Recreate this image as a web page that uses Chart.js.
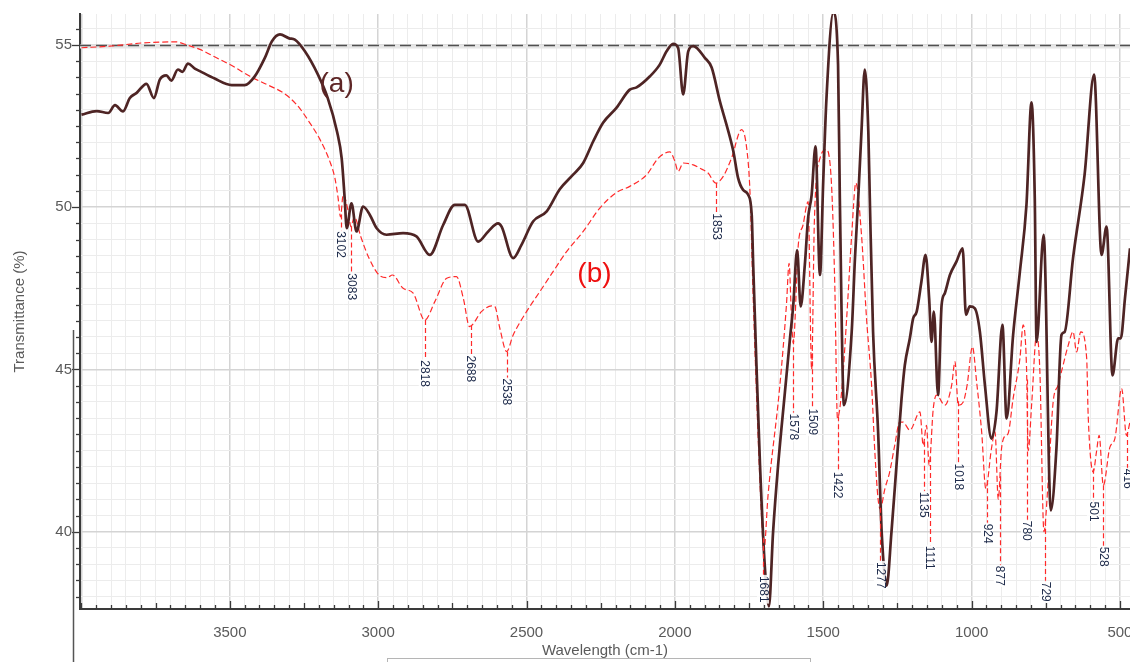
<!DOCTYPE html>
<html><head><meta charset="utf-8">
<script src="https://cdn.jsdelivr.net/npm/chart.js@4.4.1/dist/chart.umd.min.js"></script>
<style>html,body{margin:0;padding:0;background:#fff;}#wrap{position:relative;width:1130px;height:662px;}</style>
</head><body><div id="wrap"><canvas id="c" width="1130" height="662"></canvas></div>
<script>
// ---- data ----
const aWavenumber = [4000,3949,3910,3887,3860,3837,3814,3781,3756,3736,3714,3697,3675,3660,3641,3618,3601,3551,3494,3450,3416,3382,3358,3331,3300,3281,3247,3203,3170,3139,3123,3113,3106,3090,3073,3051,3028,3005,2972,2916,2871,2826,2781,2742,2708,2663,2629,2596,2584,2545,2517,2478,2432,2388,2343,2309,2275,2242,2197,2152,2129,2084,2051,2028,2006,1989,1972,1955,1938,1899,1876,1848,1826,1803,1787,1770,1753,1741,1736,1725,1713,1697,1683,1669,1652,1629,1612,1601,1588,1576,1562,1551,1539,1526,1511,1500,1489,1466,1450,1444,1430,1404,1393,1382,1371,1360,1348,1343,1332,1315,1303,1286,1270,1253,1236,1225,1208,1197,1185,1169,1155,1143,1135,1127,1113,1101,1090,1073,1051,1030,1019,1006,989,972,955,933,916,896,882,860,837,815,798,787,781,757,733,714,697,686,658,619,587,562,545,525,506,497,483,466];
const aTransmittance = [52.85,52.96,52.9,53.14,52.95,53.36,53.52,53.8,53.36,53.93,54.06,53.9,54.24,54.17,54.42,54.27,54.19,53.96,53.76,53.76,54.03,54.6,55.11,55.32,55.2,55.16,54.8,54.08,53.36,52.34,51.5,50.28,49.35,50.12,49.25,50.02,49.76,49.35,49.15,49.2,49.1,48.53,49.45,50.07,50.07,48.94,49.25,49.5,49.4,48.43,48.84,49.56,49.87,50.55,51.0,51.36,52.03,52.6,53.06,53.62,53.69,54.03,54.39,54.8,55.03,54.9,53.47,54.8,54.96,54.6,54.3,53.25,52.54,51.72,50.9,50.53,50.38,49.76,48.22,45.13,42.05,38.96,37.7,39.99,42.05,44.31,45.96,46.98,48.68,46.94,48.22,49.66,50.38,51.87,47.91,50.79,53.36,55.99,54.39,50.28,43.9,46.16,48.43,50.28,52.34,54.24,52.34,50.28,46.16,43.08,39.99,38.34,39.99,42.05,44.1,45.13,45.96,46.57,46.78,47.71,48.53,47.19,45.85,46.78,44.21,46.98,47.35,47.91,48.32,48.73,46.68,46.94,46.88,46.16,44.52,42.87,43.69,46.37,43.49,46.06,48.02,50.07,53.23,50.28,45.85,49.15,40.66,42.56,46.06,46.16,48.43,51.0,54.08,48.53,49.4,44.82,45.96,45.96,47.19,48.73];

const bWavenumber = [4000,3904,3792,3680,3646,3601,3545,3489,3432,3376,3320,3275,3230,3196,3163,3146,3135,3127,3118,3101,3092,3080,3059,3031,2997,2969,2952,2916,2882,2843,2809,2769,2736,2713,2692,2652,2618,2607,2590,2567,2545,2500,2455,2410,2365,2309,2253,2197,2152,2095,2056,2017,2000,1989,1972,1938,1916,1888,1862,1837,1809,1775,1758,1747,1736,1720,1708,1700,1686,1646,1624,1615,1607,1601,1584,1568,1551,1539,1530,1511,1489,1472,1461,1452,1438,1421,1404,1390,1371,1354,1337,1326,1315,1308,1292,1276,1259,1242,1231,1208,1174,1163,1152,1143,1129,1118,1090,1067,1056,1045,1028,1015,997,983,966,952,933,921,910,899,884,877,860,837,826,815,809,797,781,770,756,742,725,708,697,674,658,646,632,612,607,590,579,570,556,534,517,494,478,466];
const bTransmittance = [54.91,54.96,55.06,55.09,55.0,54.86,54.6,54.34,54.03,53.78,53.52,53.16,52.59,52.08,51.41,50.9,50.28,49.7,50.38,49.87,49.4,49.7,49.1,48.43,47.91,47.83,47.91,47.5,47.35,46.52,47.09,47.81,47.86,47.19,46.32,46.78,46.96,46.94,46.27,45.55,46.06,46.78,47.4,48.02,48.63,49.25,49.97,50.45,50.64,51.0,51.51,51.7,51.41,51.1,51.36,51.3,51.2,51.05,50.74,50.95,51.51,52.39,51.82,50.5,47.2,43.08,40.5,39.4,41.12,44.52,46.98,48.27,46.6,45.8,48.84,49.45,50.17,45.0,49.5,51.5,51.77,50.69,47.6,43.5,44.31,46.57,49.15,50.74,49.15,46.57,44.52,42.46,41.0,40.7,41.33,41.84,42.66,43.38,43.38,43.13,43.69,42.66,43.28,42.05,43.8,44.21,43.9,44.52,45.24,43.9,44.0,44.52,45.7,44.62,43.08,41.33,42.56,43.08,41.0,42.56,42.97,43.02,44.1,45.34,46.37,45.13,42.5,44.0,46.06,45.0,40.0,41.53,44.0,44.52,44.93,45.75,46.16,45.54,46.16,45.34,43.59,41.84,42.46,42.97,41.43,42.6,42.87,44.41,42.97,43.38];

const peakLabels = ["3102","3083","2818","2688","2538","1853","1681","1578","1509","1422","1277","1135","1111","1018","924","877","780","729","501","528","416"];
const peakLabelWavenumber = [3126,3092,2843,2688,2567,1862,1703,1602,1538,1451,1309,1161,1141,1046,948,905,814,753,591,556,475];
const peakLabelTop = [49.26,47.96,45.28,45.43,44.72,49.81,38.64,43.64,43.8,41.85,39.07,41.23,39.57,42.1,40.25,38.95,40.34,38.46,40.93,39.54,41.94];

const seriesTags = ["(a)", "(b)"];
const seriesTagWavenumber = [3140, 2271];
const seriesTagValue = [53.8, 47.94];

const xMajorTicks = [3500,3000,2500,2000,1500,1000,500];
const yMajorTicks = [40,45,50,55];
const xMinorStep = 50;
const yMinorStep = 0.5;
const referenceLevel = 55;

// ---- chart ----
const FONT = "'Liberation Sans', Arial, sans-serif";
Chart.defaults.font.family = FONT;
const toXY = (xs, ys) => xs.map((x, i) => ({x: x, y: ys[i]}));

function interp(xs, ys, x) {
  for (let i = 0; i < xs.length - 1; i++) {
    const x0 = xs[i], x1 = xs[i+1];
    if ((x <= x0 && x >= x1) || (x >= x0 && x <= x1)) {
      const t = (x - x0) / (x1 - x0);
      return ys[i] + t * (ys[i+1] - ys[i]);
    }
  }
  return null;
}

const decorations = {
  id: 'decorations',
  beforeDatasetsDraw(chart) {
    const {ctx, chartArea: ca, scales: {y}} = chart;
    const py = Math.round(y.getPixelForValue(referenceLevel)) + 0.5;
    ctx.save();
    ctx.strokeStyle = '#e6e6e6'; ctx.lineWidth = 4;
    ctx.beginPath(); ctx.moveTo(ca.left, py + 1); ctx.lineTo(ca.right, py + 1); ctx.stroke();
    ctx.strokeStyle = '#505050'; ctx.lineWidth = 1.5; ctx.setLineDash([11, 5]);
    ctx.beginPath(); ctx.moveTo(ca.left, py); ctx.lineTo(ca.right, py); ctx.stroke();
    ctx.restore();
  },
  afterDatasetsDraw(chart) {
    const {ctx, chartArea: ca, scales: {x, y}} = chart;
    ctx.save();
    ctx.beginPath(); ctx.rect(ca.left, ca.top, ca.right - ca.left, ca.bottom - ca.top + 2); ctx.clip();
    // drop lines
    ctx.strokeStyle = '#ff2a2a'; ctx.lineWidth = 1.2; ctx.setLineDash([5, 3]);
    peakLabels.forEach((lab, i) => {
      const wn = peakLabelWavenumber[i];
      const v = interp(bWavenumber, bTransmittance, wn);
      const px = Math.round(x.getPixelForValue(wn)) + 0.5;
      const y0 = y.getPixelForValue(v), y1 = y.getPixelForValue(peakLabelTop[i]);
      if (y1 > y0) { ctx.beginPath(); ctx.moveTo(px, y0); ctx.lineTo(px, y1); ctx.stroke(); }
    });
    ctx.setLineDash([]);
    // rotated labels
    ctx.font = "12px " + FONT;
    ctx.textBaseline = 'middle'; ctx.textAlign = 'left';
    peakLabels.forEach((lab, i) => {
      const px = x.getPixelForValue(peakLabelWavenumber[i]);
      const py = y.getPixelForValue(peakLabelTop[i]);
      const w = ctx.measureText(lab).width;
      ctx.save();
      ctx.translate(px, py); ctx.rotate(Math.PI / 2);
      ctx.fillStyle = 'rgba(255,255,255,0.85)';
      ctx.fillRect(-1, -6, w + 2, 12);
      ctx.fillStyle = '#1d2a4a';
      ctx.fillText(lab, 0, 0);
      ctx.restore();
    });
    // series tags
    ctx.font = "28px " + FONT; ctx.textAlign = 'center';
    const tagColors = ['#5e2626', '#ee1111'];
    seriesTags.forEach((t, i) => {
      ctx.fillStyle = tagColors[i];
      ctx.fillText(t, x.getPixelForValue(seriesTagWavenumber[i]), y.getPixelForValue(seriesTagValue[i]));
    });
    ctx.restore();
  },
  afterDraw(chart) {
    const {ctx, chartArea: ca, scales: {x, y}} = chart;
    ctx.save();
    ctx.strokeStyle = '#3a3a3a'; ctx.lineWidth = 1.3;
    x.ticks.forEach(t => {
      const px = Math.round(x.getPixelForValue(t.value)) + 0.5;
      const len = xMajorTicks.includes(t.value) ? 8 : (t.value % 250 === 0 ? 6 : 4);
      ctx.beginPath(); ctx.moveTo(px, ca.bottom); ctx.lineTo(px, ca.bottom - len); ctx.stroke();
    });
    y.ticks.forEach(t => {
      const py = Math.round(y.getPixelForValue(t.value)) + 0.5;
      const len = yMajorTicks.includes(t.value) ? 8 : 4;
      ctx.beginPath(); ctx.moveTo(ca.left - len, py); ctx.lineTo(ca.left, py); ctx.stroke();
    });
    // surrounding window frame pieces
    ctx.strokeStyle = '#555'; ctx.lineWidth = 1.5;
    ctx.beginPath(); ctx.moveTo(73.5, 330); ctx.lineTo(73.5, 662); ctx.stroke();
    ctx.strokeStyle = '#b5b5b5'; ctx.lineWidth = 1;
    ctx.strokeRect(387.5, 658.5, 423, 10);
    ctx.restore();
  }
};

new Chart(document.getElementById('c'), {
  type: 'line',
  data: {
    datasets: [
      { label: 'a', data: toXY(aWavenumber, aTransmittance), borderColor: '#4e2424', borderWidth: 2.7,
        pointRadius: 0, fill: false, cubicInterpolationMode: 'monotone' },
      { label: 'b', data: toXY(bWavenumber, bTransmittance), borderColor: '#ff2a2a', borderWidth: 1.2,
        borderDash: [6, 3], pointRadius: 0, fill: false, cubicInterpolationMode: 'monotone' }
    ]
  },
  options: {
    responsive: false, animation: false, devicePixelRatio: 1,
    layout: { padding: { top: 14, right: 0, bottom: 0, left: 0 } },
    plugins: { legend: { display: false }, tooltip: { enabled: false } },
    scales: {
      x: {
        type: 'linear', reverse: true, min: 466, max: 4005,
        afterBuildTicks: s => { const t = []; for (let i = 10; i * xMinorStep <= 4000; i++) t.push({ value: i * xMinorStep }); s.ticks = t; },
        ticks: { autoSkip: false, maxRotation: 0, padding: 15, color: '#5a5a5a', font: { size: 15 },
                 callback: v => xMajorTicks.includes(v) ? String(v) : '' },
        grid: { drawTicks: false, color: c => (c.tick && c.tick.value % 500 === 0) ? '#d4d4d4' : '#ececec',
                lineWidth: c => (c.tick && c.tick.value % 500 === 0) ? 1.5 : 1 },
        border: { display: true, color: '#3a3a3a', width: 2 },
        title: { display: true, text: 'Wavelength (cm-1)', color: '#5a5a5a', font: { size: 15 }, padding: { top: 0, bottom: 2 } },
        afterFit: s => { s.height = 53; s.paddingLeft = 0; s.paddingRight = 0; }
      },
      y: {
        min: 37.62, max: 55.95,
        afterBuildTicks: s => { const t = []; for (let i = 76; i * yMinorStep <= 55.5; i++) t.push({ value: i * yMinorStep }); s.ticks = t; },
        ticks: { autoSkip: false, padding: 8, color: '#5a5a5a', font: { size: 15 },
                 callback: v => yMajorTicks.includes(v) ? String(v) : '' },
        grid: { drawTicks: false, color: c => (c.tick && c.tick.value % 5 === 0) ? '#d4d4d4' : '#ececec',
                lineWidth: c => (c.tick && c.tick.value % 5 === 0) ? 1.5 : 1 },
        border: { display: true, color: '#3a3a3a', width: 2 },
        title: { display: true, text: 'Transmittance (%)', color: '#5a5a5a', font: { size: 15 }, padding: { top: 11, bottom: 0 } },
        afterFit: s => { s.width = 80; s.paddingTop = 0; s.paddingBottom = 0; }
      }
    }
  },
  plugins: [decorations]
});
</script>
</body></html>
